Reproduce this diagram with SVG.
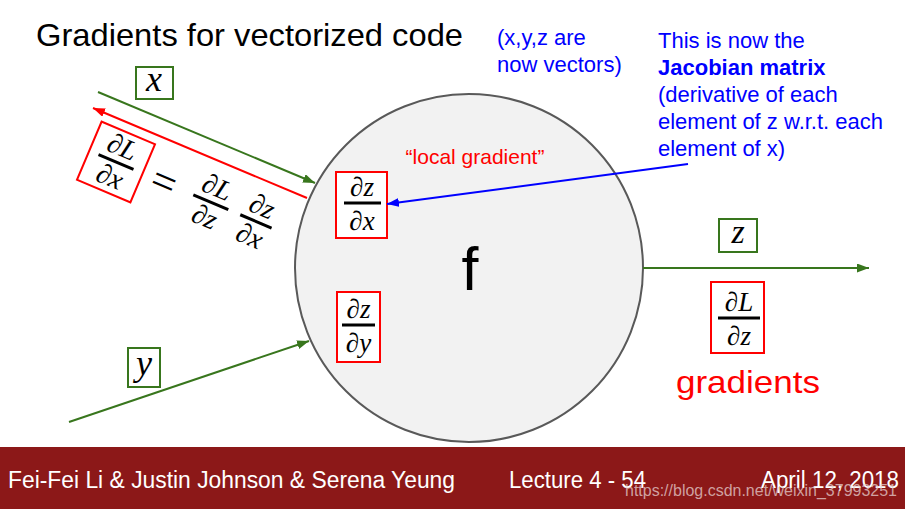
<svg xmlns="http://www.w3.org/2000/svg" width="905" height="509" viewBox="0 0 905 509">
<defs>
<style>
.sans{font-family:"Liberation Sans",Arial,sans-serif}
.math{font-family:"Liberation Serif","Times New Roman",serif;font-style:italic;fill:#000}
.blue{fill:#0000ff;font-size:22px}
.gbox{fill:#fff;stroke:#38761d;stroke-width:2}
.rbox{fill:#fff;stroke:#ff0000;stroke-width:2}
.bar{stroke:#000;stroke-width:3}
.ge{stroke:#38761d;stroke-width:2;fill:none}
</style>
<marker id="ag" markerUnits="userSpaceOnUse" markerWidth="13" markerHeight="10" refX="12" refY="4.5" orient="auto"><path d="M0,0 L12,4.5 L0,9 z" fill="#38761d"/></marker>
<marker id="ar" markerUnits="userSpaceOnUse" markerWidth="13" markerHeight="10" refX="12" refY="4.5" orient="auto"><path d="M0,0 L12,4.5 L0,9 z" fill="#ff0000"/></marker>
<marker id="ab" markerUnits="userSpaceOnUse" markerWidth="13" markerHeight="10" refX="12" refY="4.5" orient="auto"><path d="M0,0 L12,4.5 L0,9 z" fill="#0000ff"/></marker>
</defs>
<rect width="905" height="509" fill="#fff"/>

<g id="title"><text class="sans" x="36" y="46" font-size="32" textLength="427" lengthAdjust="spacingAndGlyphs">Gradients for vectorized code</text></g>

<g id="note-vectors" class="sans blue">
<text x="497" y="45">(x,y,z are</text>
<text x="497" y="72">now vectors)</text>
</g>

<g id="note-jacobian" class="sans blue">
<text x="658" y="48">This is now the</text>
<text x="658" y="75" font-weight="bold">Jacobian matrix</text>
<text x="658" y="102">(derivative of each</text>
<text x="658" y="129">element of z w.r.t. each</text>
<text x="658" y="156">element of x)</text>
</g>

<g id="node-f">
<circle cx="469" cy="268" r="174" fill="#f2f2f2" stroke="#595959" stroke-width="2"/>
<text class="sans" x="470" y="290" font-size="61" text-anchor="middle">f</text>
<text class="sans" x="475" y="164" font-size="21" fill="#ff0000" text-anchor="middle">“local gradient”</text>
</g>

<g id="dzdx">
<rect class="rbox" x="336" y="172" width="51" height="66"/>
<text class="math" x="362" y="196" font-size="27" text-anchor="middle">∂z</text>
<line class="bar" x1="344" y1="203" x2="381" y2="203"/>
<text class="math" x="362" y="230" font-size="27" text-anchor="middle">∂x</text>
</g>

<g id="dzdy">
<rect class="rbox" x="337" y="292" width="43" height="70"/>
<text class="math" x="358.5" y="318" font-size="27" text-anchor="middle">∂z</text>
<line class="bar" x1="342" y1="325" x2="375" y2="325"/>
<text class="math" x="358.5" y="352" font-size="27" text-anchor="middle">∂y</text>
</g>

<g id="label-x">
<rect class="gbox" x="136" y="67" width="37" height="32"/>
<text class="math" x="154" y="91" font-size="36" text-anchor="middle">x</text>
</g>

<g id="label-y">
<rect class="gbox" x="128" y="348" width="32" height="39"/>
<text class="math" x="144" y="375" font-size="36" text-anchor="middle">y</text>
</g>

<g id="label-z">
<rect class="gbox" x="719" y="219" width="38" height="33"/>
<text class="math" x="738" y="243" font-size="34" text-anchor="middle">z</text>
</g>

<g id="dLdz">
<rect class="rbox" x="711" y="282" width="53" height="71"/>
<text class="math" x="739" y="311" font-size="27" text-anchor="middle">∂L</text>
<line class="bar" x1="718" y1="318" x2="760" y2="318"/>
<text class="math" x="739" y="345" font-size="27" text-anchor="middle">∂z</text>
</g>

<g id="label-gradients"><text class="sans" x="676" y="393" font-size="32" fill="#ff0000" textLength="144" lengthAdjust="spacingAndGlyphs">gradients</text></g>

<g id="chain-rule" transform="translate(116,162) rotate(23)">
<rect class="rbox" x="-29" y="-31.5" width="58" height="63"/>
<text class="math" x="0" y="-7" font-size="28" text-anchor="middle">∂L</text>
<line class="bar" x1="-19" y1="0" x2="19" y2="0"/>
<text class="math" x="0" y="25" font-size="28" text-anchor="middle">∂x</text>
<text x="52" y="14" font-size="44" text-anchor="middle" font-family="Liberation Serif,serif">=</text>
<text class="math" x="103" y="-7" font-size="28" text-anchor="middle">∂L</text>
<line class="bar" x1="84" y1="0" x2="122" y2="0"/>
<text class="math" x="103" y="25" font-size="28" text-anchor="middle">∂z</text>
<text class="math" x="152" y="-7" font-size="28" text-anchor="middle">∂z</text>
<line class="bar" x1="135" y1="0" x2="169" y2="0"/>
<text class="math" x="152" y="25" font-size="28" text-anchor="middle">∂x</text>
</g>

<g id="connectors">
<line class="ge" x1="98" y1="92" x2="315" y2="183" marker-end="url(#ag)"/>
<line x1="307" y1="198" x2="93" y2="108" stroke="#ff0000" stroke-width="2" marker-end="url(#ar)"/>
<line class="ge" x1="69" y1="422" x2="309" y2="341" marker-end="url(#ag)"/>
<line class="ge" x1="643" y1="268" x2="869" y2="268" marker-end="url(#ag)"/>
<line x1="688" y1="164" x2="387" y2="204" stroke="#0000ff" stroke-width="2" marker-end="url(#ab)"/>
</g>

<g id="footer">
<rect x="0" y="447" width="905" height="62" fill="#8c1818"/>
<text class="sans" x="8" y="488" font-size="23" fill="#fff" textLength="447" lengthAdjust="spacingAndGlyphs">Fei-Fei Li &amp; Justin Johnson &amp; Serena Yeung</text>
<text class="sans" x="509" y="488" font-size="23" fill="#fff" textLength="137" lengthAdjust="spacingAndGlyphs">Lecture 4 - 54</text>
<text class="sans" x="761" y="488" font-size="23" fill="#fff" textLength="138" lengthAdjust="spacingAndGlyphs">April 12, 2018</text>
<text class="sans" x="625" y="496" font-size="16" fill="#e6d0d0" fill-opacity="0.75" textLength="272" lengthAdjust="spacingAndGlyphs">https://blog.csdn.net/weixin_37993251</text>
</g>
</svg>
